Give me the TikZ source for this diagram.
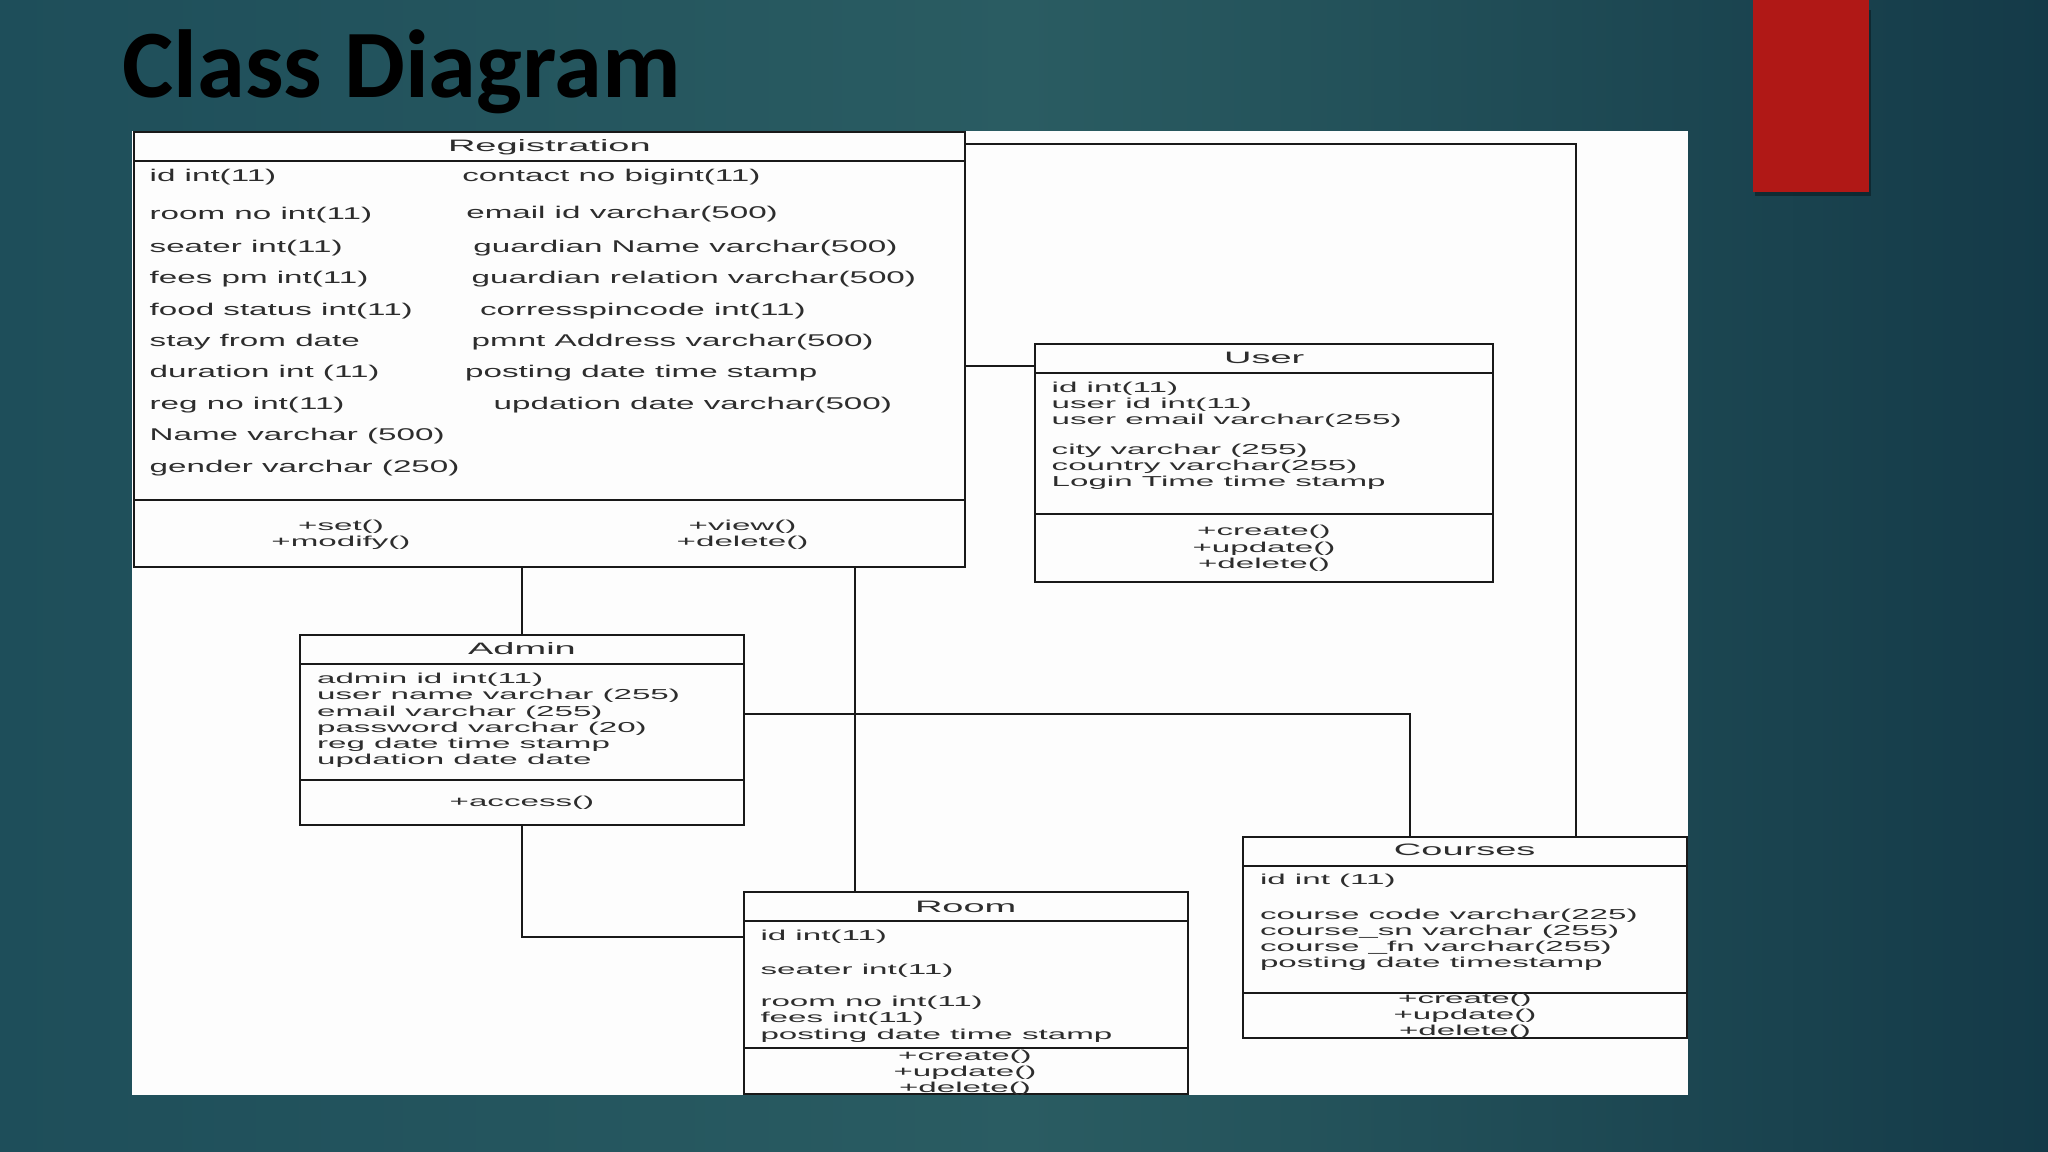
\documentclass[tikz,border=0pt]{standalone}
\usepackage{fontspec}
\newfontfamily\titlefont{Carlito}
\newfontfamily\umlfont[FakeStretch=2.3]{Liberation Sans}
\newfontfamily\regfont[FakeStretch=1.95]{Liberation Sans}
\usepackage{xcolor}
\definecolor{slateleft}{RGB}{30,78,90}
\definecolor{slatemid}{RGB}{42,92,98}
\definecolor{slateright}{RGB}{20,58,72}
\definecolor{barred}{RGB}{176,24,22}
\definecolor{umlline}{RGB}{25,25,25}
\definecolor{umltext}{RGB}{45,45,45}
\definecolor{paper}{RGB}{253,253,253}
\usepackage{tikz}

\begin{document}
\begin{tikzpicture}[
  classbox/.style={
    rectangle, draw=umlline, line width=0.6pt, fill=paper,
    inner sep=0pt, outer sep=0pt
  },
  ctitle/.style={
    inner sep=0pt, text height=3.4pt, text depth=1pt,
    font=\fontsize{4.7pt}{5.6pt}\umlfont, text=umltext
  },
  regattr/.style={
    anchor=north west, inner sep=0pt, align=left,
    font=\fontsize{4.84pt}{8.93pt}\regfont, text=umltext
  },
  attr/.style={
    anchor=north west, inner sep=0pt, align=left,
    font=\fontsize{4.1pt}{4.6pt}\umlfont, text=umltext
  },
  meth/.style={
    anchor=north, inner sep=0pt, align=center,
    font=\fontsize{4.1pt}{4.6pt}\umlfont, text=umltext
  },
  assoc/.style={draw=umlline, line width=0.6pt},
]

%% Fondo de la diapositiva
\shade[left color=slateleft, right color=slateright, middle color=slatemid]
  (0,0) rectangle (20.48,-11.52);
\useasboundingbox (0,0) rectangle (20.48,-11.52);
\fill[black, opacity=0.35] (17.55,-0.1) rectangle (18.71,-1.96);
\fill[barred] (17.53,0) rectangle (18.69,-1.917);
\fill[paper] (1.32,-1.31) rectangle (16.88,-10.95);

\node[anchor=base west, inner sep=0pt, font=\fontsize{27.5pt}{33pt}\titlefont\bfseries]
  (title) at (1.22,-0.973) {Class Diagram};

%% Clases
\node[classbox, minimum width=8.313cm, minimum height=4.356cm] (reg)     at (5.494,-3.495) {};
\node[classbox, minimum width=4.583cm, minimum height=2.374cm] (user)    at (12.642,-4.63) {};
\node[classbox, minimum width=4.433cm, minimum height=1.902cm] (admin)   at (5.22,-7.301)  {};
\node[classbox, minimum width=4.441cm, minimum height=2.014cm] (room)    at (9.657,-9.93)  {};
\node[classbox, minimum width=4.44cm,  minimum height=2.01cm]  (courses) at (14.647,-9.372) {};

%% Separadores
\draw[assoc] ([yshift=-0.29cm]reg.north west)     -- ([yshift=-0.29cm]reg.north east);
\draw[assoc] ([yshift=0.673cm]reg.south west)     -- ([yshift=0.673cm]reg.south east);
\draw[assoc] ([yshift=-0.29cm]user.north west)    -- ([yshift=-0.29cm]user.north east);
\draw[assoc] ([yshift=0.674cm]user.south west)    -- ([yshift=0.674cm]user.south east);
\draw[assoc] ([yshift=-0.29cm]admin.north west)   -- ([yshift=-0.29cm]admin.north east);
\draw[assoc] ([yshift=0.448cm]admin.south west)   -- ([yshift=0.448cm]admin.south east);
\draw[assoc] ([yshift=-0.29cm]room.north west)    -- ([yshift=-0.29cm]room.north east);
\draw[assoc] ([yshift=0.454cm]room.south west)    -- ([yshift=0.454cm]room.south east);
\draw[assoc] ([yshift=-0.29cm]courses.north west) -- ([yshift=-0.29cm]courses.north east);
\draw[assoc] ([yshift=0.444cm]courses.south west) -- ([yshift=0.444cm]courses.south east);

%% Nombres
\node[ctitle] (reg-name)     at ([yshift=-0.155cm]reg.north)    {Registration};
\node[ctitle] (user-name)    at ([yshift=-0.147cm]user.north)   {User};
\node[ctitle] (admin-name)   at ([yshift=-0.152cm]admin.north)  {Admin};
\node[ctitle] (room-name)    at ([yshift=-0.155cm]room.north)   {Room};
\node[ctitle] (courses-name) at ([yshift=-0.15cm]courses.north) {Courses};

%% Atributos
\node[regattr] (reg-left) at (1.49,-1.684)
  {id int(11)\\[1.76pt] room no int(11)\\[0.57pt] seater int(11)\\ fees pm int(11)\\
   food status int(11)\\ stay from date\\ duration int (11)\\ reg no int(11)\\
   Name varchar (500)\\ gender varchar (250)};
\node[regattr] (reg-right) at (4.617,-1.684)
  {contact no bigint(11)\\[1.76pt]
   \hspace*{0.039cm}email id varchar(500)\\[0.57pt]
   \hspace*{0.11cm}guardian Name varchar(500)\\
   \hspace*{0.093cm}guardian relation varchar(500)\\
   \hspace*{0.176cm}corresspincode int(11)\\
   \hspace*{0.093cm}pmnt Address varchar(500)\\
   \hspace*{0.028cm}posting date time stamp\\
   \hspace*{0.313cm}updation date varchar(500)};
\node[attr] (user-attr) at (10.51,-3.815)
  {id int(11)\\ user id int(11)\\ user email varchar(255)\\[3.7pt]
   city varchar (255)\\ country varchar(255)\\ Login Time time stamp};
\node[attr] (admin-attr) at (3.164,-6.726)
  {admin id int(11)\\ user name varchar (255)\\ email varchar (255)\\
   password varchar (20)\\ reg date time stamp\\ updation date date};
\node[attr] (room-attr) at (7.598,-9.298)
  {id int(11)\\[5.06pt] seater int(11)\\[4.47pt] room no int(11)\\ fees int(11)\\
   posting date time stamp};
\node[attr] (courses-attr) at (12.593,-8.738)
  {id int (11)\\[5.1pt] course code varchar(225)\\ course\_sn varchar (255)\\
   course \_fn varchar(255)\\ posting date timestamp};

%% Operaciones
\node[meth] (reg-meth1)    at (3.41,-5.195)  {+set()\\ +modify()};
\node[meth] (reg-meth2)    at (7.426,-5.195) {+view()\\ +delete()};
\node[meth] (user-meth)    at (12.64,-5.248) {+create()\\ +update()\\ +delete()};
\node[meth] (admin-meth)   at (5.22,-7.958)  {+access()};
\node[meth] (room-meth)    at (9.65,-10.49)  {+create()\\ +update()\\ +delete()};
\node[meth] (courses-meth) at (14.65,-9.921) {+create()\\ +update()\\ +delete()};

%% Asociaciones
\coordinate (userjoin) at ([yshift=-0.22cm]user.north west);
\coordinate (roomjoin) at ([xshift=-1.11cm]room.north);
\draw[assoc] ([yshift=-0.12cm]reg.north east) -| ([xshift=1.11cm]courses.north);
\draw[assoc] (userjoin -| reg.east) -- (userjoin);
\draw[assoc] (reg.south -| admin.north) -- (admin.north);
\draw[assoc] (roomjoin |- reg.south) -- (roomjoin);
\draw[assoc] ([yshift=-0.79cm]admin.north east) -| ([xshift=-0.55cm]courses.north);
\draw[assoc] (admin.south) |- ([yshift=-0.45cm]room.north west);

\end{tikzpicture}
\end{document}
